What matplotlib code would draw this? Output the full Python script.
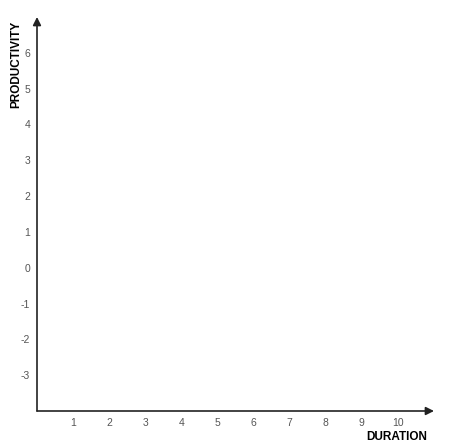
import matplotlib.pyplot as plt

plt.rcParams['font.family'] = ['Liberation Sans', 'DejaVu Sans']

x_ticks = [1, 2, 3, 4, 5, 6, 7, 8, 9, 10]
y_ticks = [-3, -2, -1, 0, 1, 2, 3, 4, 5, 6]
x_range = [0, 11]
y_range = [-4, 7]
x_label = 'DURATION'
y_label = 'PRODUCTIVITY'

fig = plt.figure(figsize=(4.5, 4.46), dpi=100)
ax = fig.add_axes([37 / 450, 35 / 446, 397 / 450, 394 / 446])
ax.set_xlim(x_range)
ax.set_ylim(y_range)

for s in ax.spines.values():
    s.set_visible(False)

# axes drawn as arrows
ax.annotate('', xy=(x_range[1], y_range[0]), xytext=(x_range[0], y_range[0]),
            arrowprops=dict(arrowstyle='-|>', color='#222222', lw=1.2,
                            mutation_scale=12, shrinkA=0, shrinkB=0))
ax.annotate('', xy=(x_range[0], y_range[1]), xytext=(x_range[0], y_range[0]),
            arrowprops=dict(arrowstyle='-|>', color='#222222', lw=1.2,
                            mutation_scale=12, shrinkA=0, shrinkB=0))

ax.set_xticks(x_ticks)
ax.set_yticks(y_ticks)
ax.set_xticklabels([str(v) for v in x_ticks])
ax.set_yticklabels([str(v) for v in y_ticks])
ax.tick_params(length=0, labelsize=7.5, labelcolor='#555555', pad=5)

fig.text(427 / 450, 1 - 437 / 446, x_label, ha='right', va='center',
         fontsize=8.5, color='black', fontweight='bold')
fig.text(16 / 450, 1 - 64 / 446, y_label, ha='center', va='center',
         rotation=90, fontsize=8.5, color='black', fontweight='bold')

fig.savefig('out.png', dpi=100)
